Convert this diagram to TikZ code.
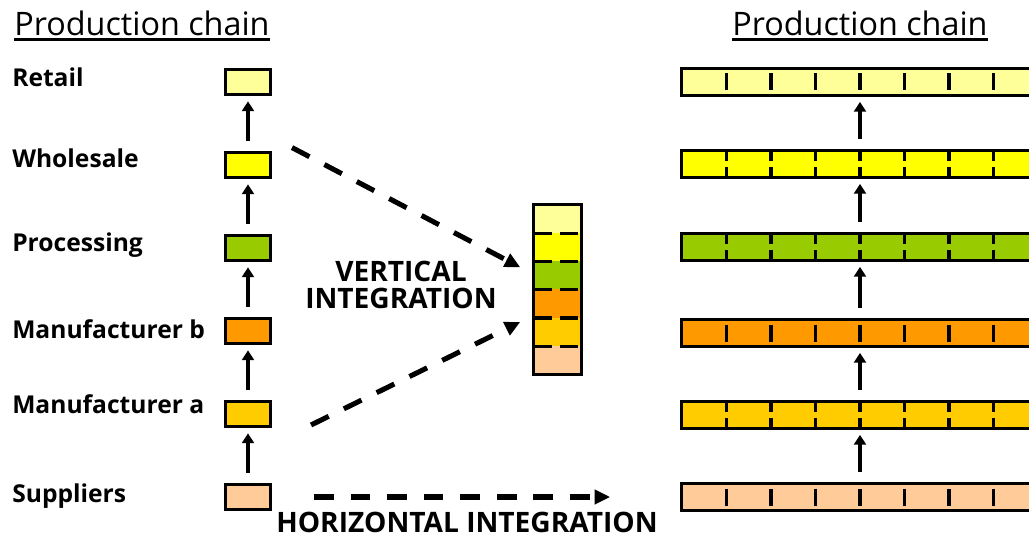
\documentclass[tikz,border=0pt]{standalone}
\usepackage{fontspec}
\setmainfont{Open Sans}
\usetikzlibrary{calc,arrows.meta}

\definecolor{cretail}{HTML}{FFFF99}
\definecolor{cwholesale}{HTML}{FFFF00}
\definecolor{cprocessing}{HTML}{99CC00}
\definecolor{cmanub}{HTML}{FF9900}
\definecolor{cmanua}{HTML}{FFCC00}
\definecolor{csuppliers}{HTML}{FFCC99}

\tikzset{
    stage/.style={draw, line width=2.3pt, minimum width=1.12cm, minimum height=0.64cm, inner sep=0},
    bar/.style={draw, line width=2.3pt, minimum width=8.96cm, minimum height=0.667cm, inner sep=0},
    seg/.style={inner sep=0, minimum width=1.195cm, minimum height=0.7075cm},
    lbl/.style={anchor=base west, inner sep=0, font=\fontsize{17.5}{21}\selectfont\bfseries},
    caps/.style={inner sep=0, font=\fontsize{20}{19}\selectfont\bfseries},
    ttl/.style={anchor=base west, inner sep=0, font=\fontsize{23}{27}\selectfont},
    uparrow/.style={line width=2.4pt, -{Triangle[length=7pt,width=8.5pt]}, shorten <=7pt, shorten >=3.5pt},
    integ/.style={line width=3.6pt, dash pattern=on 14pt off 12pt, -{Triangle[length=11pt,width=10pt]}},
    tick/.style={line width=2.3pt},
    divider/.style={line width=2.3pt, dash pattern=on 13pt off 6pt},
}

\begin{document}
\begin{tikzpicture}[x=0.025cm, y=-0.025cm]
    \path[use as bounding box, clip] (0,0) rectangle (1029,537);

    % titles
    \node[ttl] at (14,35.5) (titleL) {Production chain};
    \node[ttl] at (732,35.5) (titleR) {Production chain};
    \draw[line width=2.1pt] ($(titleL.base west)+(0,4)$) -- ($(titleL.base east)+(0,4)$);
    \draw[line width=2.1pt] ($(titleR.base west)+(0,4)$) -- ($(titleR.base east)+(0,4)$);

    % left chain
    \node[lbl] at (12,87) {Retail};
    \node[lbl] at (12,168) {Wholesale};
    \node[lbl] at (12,251) {Processing};
    \node[lbl] at (12,338) {Manufacturer b};
    \node[lbl] at (12,413) {Manufacturer a};
    \node[lbl] at (12,502) {Suppliers};

    \node[stage, fill=cretail] at (248,82) (retail) {};
    \node[stage, fill=cwholesale] at (248,165) (wholesale) {};
    \node[stage, fill=cprocessing] at (248,248) (processing) {};
    \node[stage, fill=cmanub] at (248,331) (manub) {};
    \node[stage, fill=cmanua] at (248,414) (manua) {};
    \node[stage, fill=csuppliers] at (248,497) (suppliers) {};

    \draw[uparrow] (wholesale.north) -- (retail.south);
    \draw[uparrow] (processing.north) -- (wholesale.south);
    \draw[uparrow] (manub.north) -- (processing.south);
    \draw[uparrow] (manua.north) -- (manub.south);
    \draw[uparrow] (suppliers.north) -- (manua.south);

    % right chain
    \node[bar, fill=cretail] at (861,82) (rretail) {};
    \node[bar, fill=cwholesale] at (861,164) (rwholesale) {};
    \node[bar, fill=cprocessing] at (861,247) (rprocessing) {};
    \node[bar, fill=cmanub] at (861,333) (rmanub) {};
    \node[bar, fill=cmanua] at (861,415) (rmanua) {};
    \node[bar, fill=csuppliers] at (861,497) (rsuppliers) {};

    \foreach \b in {rretail, rmanub, rsuppliers}
        \foreach \k in {-3,...,3}
            \draw[tick] ($(\b)+(44.5*\k-1,-8.5)$) -- ($(\b)+(44.5*\k-1,8.5)$);
    \foreach \b in {rwholesale, rprocessing, rmanua}
        \foreach \k in {-3,...,3} {
            \draw[tick] ($(\b)+(44.5*\k-1,-13)$) -- ($(\b)+(44.5*\k-1,-3)$);
            \draw[tick] ($(\b)+(44.5*\k-1,3)$) -- ($(\b)+(44.5*\k-1,13)$);
        }

    \draw[uparrow] ($(rwholesale.north)+(-1,0)$) -- ($(rretail.south)+(-1,0)$);
    \draw[uparrow] ($(rprocessing.north)+(-1,0)$) -- ($(rwholesale.south)+(-1,0)$);
    \draw[uparrow] ($(rmanub.north)+(-1,0)$) -- ($(rprocessing.south)+(-1,0)$);
    \draw[uparrow] ($(rmanua.north)+(-1,0)$) -- ($(rmanub.south)+(-1,0)$);
    \draw[uparrow] ($(rsuppliers.north)+(-1,0)$) -- ($(rmanua.south)+(-1,0)$);

    % integrated firm
    \node[seg, fill=cretail] at (557.5,218.75) (s1) {};
    \node[seg, fill=cwholesale] at (557.5,247.05) (s2) {};
    \node[seg, fill=cprocessing] at (557.5,275.35) (s3) {};
    \node[seg, fill=cmanub] at (557.5,303.65) (s4) {};
    \node[seg, fill=cmanua] at (557.5,331.95) (s5) {};
    \node[seg, fill=csuppliers] at (557.5,360.25) (s6) {};
    \draw[line width=2.3pt] (s1.north west) rectangle (s6.south east);
    \foreach \s in {s1,s2,s3,s4,s5}
        \draw[divider] (\s.south west) -- (\s.south east);

    % integration arrows
    \coordinate (wsout) at ($(wholesale.north east)+(20,-3)$);
    \coordinate (vin1) at ($(s3.west)+(-13,-8)$);
    \coordinate (maout) at ($(manua.east)+(39,11)$);
    \coordinate (vin2) at ($(s5.west)+(-13,-10)$);
    \coordinate (supout) at ($(suppliers.east)+(42,0)$);
    \coordinate (hend) at ($(rsuppliers.west)+(-70,0)$);
    \draw[integ] (wsout) -- (vin1);
    \draw[integ] (maout) -- (vin2);
    \draw[integ] (supout) -- (hend);

    \node[caps, align=center] at (401,285) (vlabel) {VERTICAL\\INTEGRATION};
    \node[caps] at (467,522) (hlabel) {HORIZONTAL INTEGRATION};
\end{tikzpicture}
\end{document}
